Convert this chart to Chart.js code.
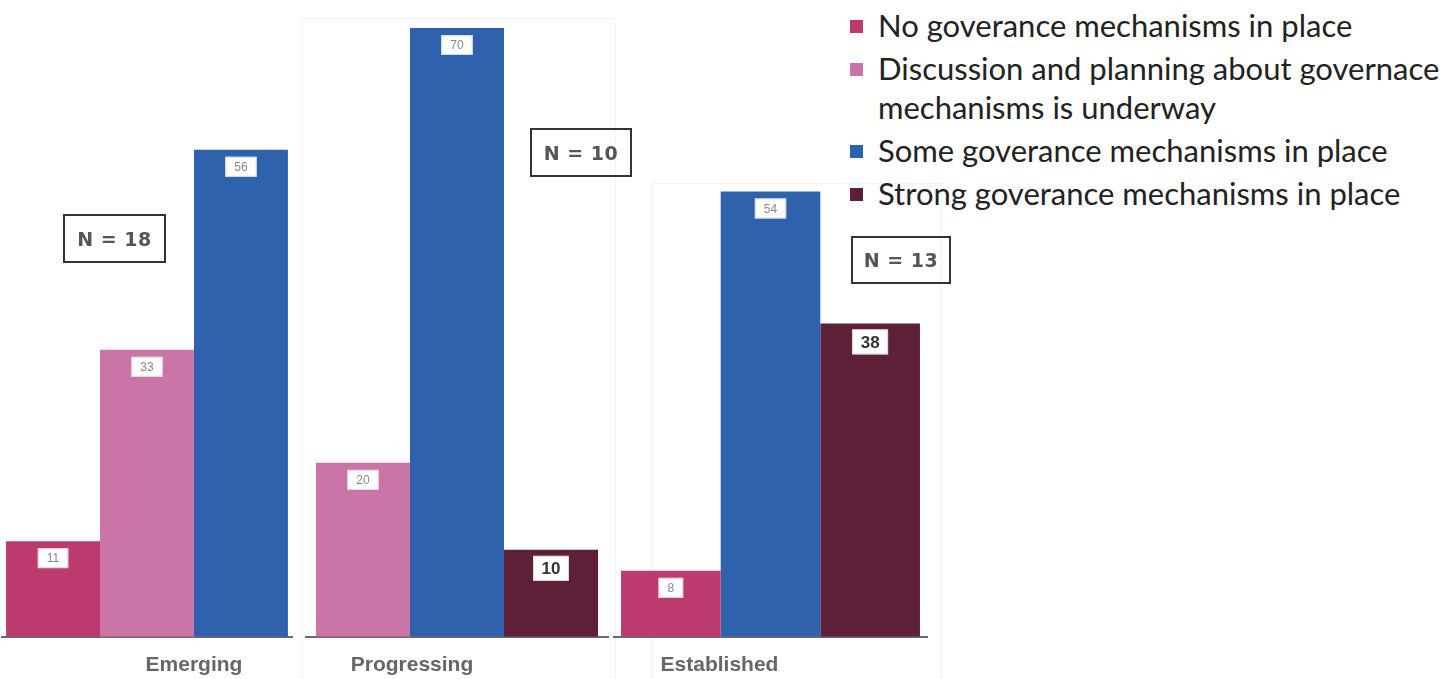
<!DOCTYPE html>
<html>
<head>
<meta charset="utf-8">
<script src="https://cdn.jsdelivr.net/npm/chart.js@4/dist/chart.umd.min.js"></script>
<style>
  body { margin: 0; background: #fff; width: 1444px; height: 679px; overflow: hidden; position: relative; }
  .panel { position: absolute; top: 0; height: 697px; }
  .frame { position: absolute; border: 1px solid #f3f3f3; }
  .nbox {
    position: absolute; box-sizing: border-box; border: 2px solid #333;
    font: bold 19px "DejaVu Sans", sans-serif; color: #555; letter-spacing: 0.5px;
    display: flex; align-items: center; justify-content: center;
  }
  #legend { position: absolute; left: 850px; top: 6px; width: 594px; font-family: Lato, sans-serif; font-size: 31px; color: #222; }
  #legend .item { position: relative; padding-left: 28px; line-height: 39px; margin-bottom: 4px; }
  #legend .swatch { position: absolute; left: 0; top: 14px; width: 13px; height: 13px; }
</style>
</head>
<body>
<div class="frame" style="left:302px;top:18px;width:312px;height:660px"></div>
<div class="frame" style="left:652px;top:183px;width:288px;height:495px"></div>
<div id="legend"></div>
<script>
document.addEventListener('DOMContentLoaded', function() {

    // --- Data ---
    const categories = ['Emerging', 'Progressing', 'Established'];
    const seriesNames = [
        'No goverance mechanisms in place',
        'Discussion and planning about governace mechanisms is underway',
        'Some goverance mechanisms in place',
        'Strong goverance mechanisms in place'
    ];
    const noGov = [11, null, 8];
    const discussion = [33, 20, null];
    const someGov = [56, 70, 54];
    const strongGov = [null, 10, 38];
    const sampleSizes = [18, 10, 13];

    const seriesValues = [noGov, discussion, someGov, strongGov];
    const seriesColors = ['#BC3A6E', '#CB74A8', '#2F62AD', '#5E1F38'];
    const boldLabelSeries = [false, false, false, true];

    // one small chart per stage, placed side by side
    const panels = [
        { left: 0,   width: 300, padL: 2, padR: 8,  top: 28,   catPct: 0.972, labelOffset: 47 },
        { left: 297, width: 320, padL: 9, padR: 9,  top: 28,   catPct: 0.934, labelOffset: -45 },
        { left: 609, width: 330, padL: 5, padR: 12, top: 59.5, catPct: 0.955, labelOffset: -51 }
    ];
    const nBoxes = [
        { left: 63,  top: 214, w: 103, h: 49 },
        { left: 530, top: 128, w: 102, h: 49 },
        { left: 851, top: 236, w: 100, h: 48 }
    ];

    // --- White value tags near the top of each bar ---
    const valueTags = {
        id: 'valueTags',
        afterDatasetsDraw(chart) {
            const ctx = chart.ctx;
            chart.data.datasets.forEach((ds, di) => {
                const meta = chart.getDatasetMeta(di);
                meta.data.forEach((bar, i) => {
                    const v = ds.data[i];
                    if (v === null || v === undefined) return;
                    const bold = ds.boldLabel;
                    ctx.save();
                    ctx.font = bold ? 'bold 17px "Liberation Sans", sans-serif' : '12px "Liberation Sans", sans-serif';
                    const tw = ctx.measureText(String(v)).width;
                    const bw = tw + (bold ? 17 : 18);
                    const bh = bold ? 25 : 20;
                    const bx = bar.x - bw / 2;
                    const by = bar.y + (bold ? 6 : 7);
                    ctx.fillStyle = '#fff';
                    ctx.fillRect(bx, by, bw, bh);
                    ctx.strokeStyle = '#d8d8d8';
                    ctx.lineWidth = 1;
                    ctx.strokeRect(bx + 0.5, by + 0.5, bw - 1, bh - 1);
                    ctx.fillStyle = bold ? '#333' : '#888';
                    ctx.textAlign = 'center';
                    ctx.textBaseline = 'middle';
                    ctx.fillText(String(v), bar.x, by + bh / 2 + 1);
                    ctx.restore();
                });
            });
        }
    };

    panels.forEach((p, i) => {
        const wrap = document.createElement('div');
        wrap.className = 'panel';
        wrap.style.left = p.left + 'px';
        wrap.style.width = p.width + 'px';
        const canvas = document.createElement('canvas');
        wrap.appendChild(canvas);
        document.body.appendChild(wrap);

        const datasets = [];
        seriesValues.forEach((vals, s) => {
            if (vals[i] === null) return;
            datasets.push({
                label: seriesNames[s],
                data: [vals[i]],
                backgroundColor: seriesColors[s],
                borderWidth: 0,
                boldLabel: boldLabelSeries[s]
            });
        });

        new Chart(canvas, {
            type: 'bar',
            data: { labels: [categories[i]], datasets: datasets },
            options: {
                responsive: true,
                maintainAspectRatio: false,
                animation: false,
                categoryPercentage: p.catPct,
                barPercentage: 1,
                layout: { padding: { left: p.padL, right: p.padR, top: p.top, bottom: 3 } },
                plugins: { legend: { display: false }, tooltip: { enabled: false } },
                scales: {
                    x: {
                        grid: { display: false, drawTicks: false },
                        border: { display: true, color: '#6b6b6b', width: 2 },
                        ticks: {
                            color: '#666',
                            padding: 16,
                            labelOffset: p.labelOffset,
                            maxRotation: 0,
                            font: { family: '"Liberation Sans", sans-serif', size: 21, weight: 'bold' }
                        }
                    },
                    y: { display: false, min: 0, max: 70 }
                }
            },
            plugins: [valueTags]
        });

        const nb = document.createElement('div');
        nb.className = 'nbox';
        nb.style.left = nBoxes[i].left + 'px';
        nb.style.top = nBoxes[i].top + 'px';
        nb.style.width = nBoxes[i].w + 'px';
        nb.style.height = nBoxes[i].h + 'px';
        nb.textContent = 'N = ' + sampleSizes[i];
        document.body.appendChild(nb);
    });

    // --- Legend ---
    const legend = document.getElementById('legend');
    seriesNames.forEach((name, s) => {
        const item = document.createElement('div');
        item.className = 'item';
        const sw = document.createElement('span');
        sw.className = 'swatch';
        sw.style.background = seriesColors[s];
        item.appendChild(sw);
        item.appendChild(document.createTextNode(name));
        legend.appendChild(item);
    });
});
</script>
</body>
</html>
